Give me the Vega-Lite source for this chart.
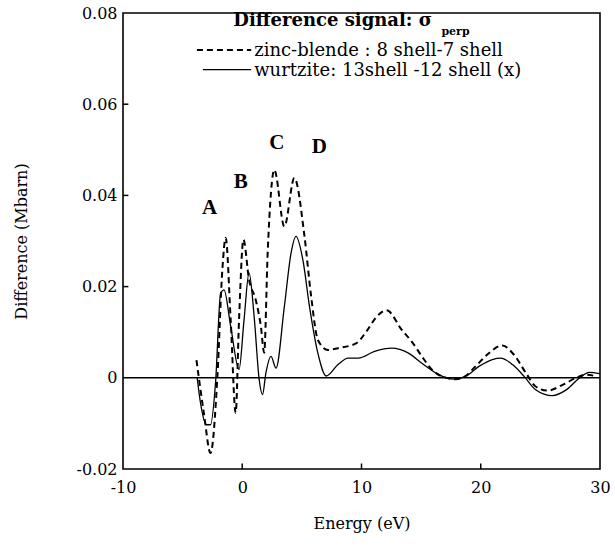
{
  "$schema": "https://vega.github.io/schema/vega-lite/v6.json",
  "width": 477,
  "height": 456,
  "autosize": "none",
  "padding": {"left": 123, "top": 13, "right": 15, "bottom": 80},
  "background": "white",
  "config": {
    "view": {"stroke": null},
    "axis": {"grid": false, "domain": false, "ticks": false, "labelColor": "black", "titleColor": "black", "labelFont": "DejaVu Serif", "titleFont": "DejaVu Serif", "labelFontSize": 16, "titleFontSize": 16, "titleFontWeight": "normal", "labelFlush": false, "labelOverlap": false}
  },
  "datasets": {
    "curves": [
      {"s": "zb", "x": -3.84, "y": 0.0039}, {"s": "zb", "x": -3.22, "y": -0.0077}, {"s": "zb", "x": -2.66, "y": -0.0165}, {"s": "zb", "x": -2.09, "y": 0.0}, {"s": "zb", "x": -1.67, "y": 0.0237}, {"s": "zb", "x": -1.39, "y": 0.0307}, {"s": "zb", "x": -0.97, "y": 0.0127}, {"s": "zb", "x": -0.55, "y": -0.0077}, {"s": "zb", "x": -0.27, "y": 0.0127}, {"s": "zb", "x": 0.1, "y": 0.0303}, {"s": "zb", "x": 0.57, "y": 0.0215}, {"s": "zb", "x": 1.14, "y": 0.017}, {"s": "zb", "x": 1.56, "y": 0.0113}, {"s": "zb", "x": 1.84, "y": 0.0055}, {"s": "zb", "x": 2.13, "y": 0.0273}, {"s": "zb", "x": 2.69, "y": 0.0456}, {"s": "zb", "x": 3.53, "y": 0.0332}, {"s": "zb", "x": 4.37, "y": 0.0438}, {"s": "zb", "x": 5.22, "y": 0.031}, {"s": "zb", "x": 5.78, "y": 0.0178}, {"s": "zb", "x": 6.34, "y": 0.0083}, {"s": "zb", "x": 7.19, "y": 0.0061}, {"s": "zb", "x": 8.03, "y": 0.0065}, {"s": "zb", "x": 9.58, "y": 0.0076}, {"s": "zb", "x": 10.42, "y": 0.0102}, {"s": "zb", "x": 11.27, "y": 0.0134}, {"s": "zb", "x": 12.11, "y": 0.0148}, {"s": "zb", "x": 13.38, "y": 0.0105}, {"s": "zb", "x": 14.2, "y": 0.008}, {"s": "zb", "x": 15.06, "y": 0.0047}, {"s": "zb", "x": 15.9, "y": 0.0018}, {"s": "zb", "x": 16.75, "y": 0.0003}, {"s": "zb", "x": 17.87, "y": -0.0003}, {"s": "zb", "x": 18.72, "y": 0.0004}, {"s": "zb", "x": 19.56, "y": 0.0025}, {"s": "zb", "x": 20.68, "y": 0.0054}, {"s": "zb", "x": 21.81, "y": 0.0071}, {"s": "zb", "x": 22.8, "y": 0.005}, {"s": "zb", "x": 23.8, "y": 0.001}, {"s": "zb", "x": 24.6, "y": -0.0019}, {"s": "zb", "x": 25.6, "y": -0.0028}, {"s": "zb", "x": 26.9, "y": -0.0015}, {"s": "zb", "x": 28.0, "y": 0.0}, {"s": "zb", "x": 28.85, "y": 0.0007}, {"s": "zb", "x": 29.7, "y": 0.0003},
      {"s": "wz", "x": -3.78, "y": 0.0}, {"s": "wz", "x": -3.5, "y": -0.0055}, {"s": "wz", "x": -3.0, "y": -0.0103}, {"s": "wz", "x": -2.66, "y": -0.0103}, {"s": "wz", "x": -2.24, "y": -0.0011}, {"s": "wz", "x": -1.81, "y": 0.0186}, {"s": "wz", "x": -1.53, "y": 0.0193}, {"s": "wz", "x": -0.97, "y": 0.0113}, {"s": "wz", "x": -0.27, "y": 0.0018}, {"s": "wz", "x": 0.15, "y": 0.0127}, {"s": "wz", "x": 0.57, "y": 0.023}, {"s": "wz", "x": 1.0, "y": 0.0134}, {"s": "wz", "x": 1.42, "y": -0.0004}, {"s": "wz", "x": 1.7, "y": -0.0037}, {"s": "wz", "x": 1.98, "y": 0.001}, {"s": "wz", "x": 2.41, "y": 0.0047}, {"s": "wz", "x": 2.83, "y": 0.0021}, {"s": "wz", "x": 3.53, "y": 0.0156}, {"s": "wz", "x": 4.09, "y": 0.0273}, {"s": "wz", "x": 4.51, "y": 0.031}, {"s": "wz", "x": 5.08, "y": 0.0259}, {"s": "wz", "x": 5.64, "y": 0.0156}, {"s": "wz", "x": 6.34, "y": 0.0054}, {"s": "wz", "x": 7.05, "y": 0.0004}, {"s": "wz", "x": 8.03, "y": 0.0029}, {"s": "wz", "x": 8.88, "y": 0.0043}, {"s": "wz", "x": 9.72, "y": 0.0043}, {"s": "wz", "x": 11.1, "y": 0.0058}, {"s": "wz", "x": 12.53, "y": 0.0065}, {"s": "wz", "x": 13.94, "y": 0.0054}, {"s": "wz", "x": 15.06, "y": 0.0032}, {"s": "wz", "x": 16.47, "y": 0.0007}, {"s": "wz", "x": 17.74, "y": -0.0003}, {"s": "wz", "x": 18.72, "y": 0.0003}, {"s": "wz", "x": 19.85, "y": 0.0025}, {"s": "wz", "x": 20.97, "y": 0.004}, {"s": "wz", "x": 21.67, "y": 0.0043}, {"s": "wz", "x": 22.66, "y": 0.0029}, {"s": "wz", "x": 23.64, "y": 0.0003}, {"s": "wz", "x": 24.6, "y": -0.0026}, {"s": "wz", "x": 26.0, "y": -0.0039}, {"s": "wz", "x": 27.2, "y": -0.0026}, {"s": "wz", "x": 28.3, "y": 0.0}, {"s": "wz", "x": 29.1, "y": 0.0012}, {"s": "wz", "x": 29.97, "y": 0.0009}
    ],
    "frame": [{"x": -10, "x2": 30, "y": -0.02, "y2": 0.08}],
    "zero": [{"v": 0}],
    "yticks": [
      {"x": -10, "x2": -9.55, "y": 0.02}, {"x": -10, "x2": -9.55, "y": 0.04}, {"x": -10, "x2": -9.55, "y": 0.06}
    ],
    "xticks": [
      {"x": 0, "y": -0.02, "y2": -0.0188}, {"x": 10, "y": -0.02, "y2": -0.0188}, {"x": 20, "y": -0.02, "y2": -0.0188}
    ],
    "keylines": [
      {"s": "zb", "x": -3.8, "y": 0.0719}, {"s": "zb", "x": 0.75, "y": 0.0719},
      {"s": "wz", "x": -3.3, "y": 0.0676}, {"s": "wz", "x": 0.75, "y": 0.0676}
    ],
    "letters": [
      {"t": "A", "x": -2.74, "y": 0.0373}, {"t": "B", "x": -0.13, "y": 0.043}, {"t": "C", "x": 2.9, "y": 0.0515}, {"t": "D", "x": 6.46, "y": 0.0507}
    ],
    "keytext": [
      {"t": "zinc-blende : 8 shell-7 shell", "x": 1.0, "y": 0.0706},
      {"t": "wurtzite: 13shell -12 shell (x)", "x": 1.0, "y": 0.0662}
    ],
    "heading": [
      {"t": "Difference  signal:  σ", "x": -0.75, "y": 0.0772}
    ],
    "sub": [
      {"t": "perp", "x": 16.7, "y": 0.0752}
    ]
  },
  "layer": [
    {"data": {"name": "frame"}, "mark": {"type": "rect", "filled": false, "stroke": "black", "strokeWidth": 1.6},
      "encoding": {
        "x": {"field": "x", "type": "quantitative", "scale": {"domain": [-10, 30], "nice": false, "zero": false},
          "axis": {"title": "Energy (eV)", "values": [-10, 0, 10, 20, 30], "labelPadding": 10, "titlePadding": 20, "labelExpr": "datum.value < 0 ? '-' + format(-datum.value, 'd') : format(datum.value, 'd')"}},
        "x2": {"field": "x2"},
        "y": {"field": "y", "type": "quantitative", "scale": {"domain": [-0.02, 0.08], "nice": false, "zero": false},
          "axis": {"title": "Difference (Mbarn)", "values": [-0.02, 0, 0.02, 0.04, 0.06, 0.08], "labelPadding": 6, "titlePadding": 46, "labelExpr": "datum.value == 0 ? '0' : (datum.value < 0 ? '-' + format(-datum.value, '.2f') : format(datum.value, '.2f'))"}},
        "y2": {"field": "y2"}
      }},
    {"data": {"name": "zero"}, "mark": {"type": "rule", "color": "black", "strokeWidth": 1.5},
      "encoding": {"y": {"field": "v", "type": "quantitative"}}},
    {"data": {"name": "yticks"}, "mark": {"type": "rule", "color": "black", "strokeWidth": 1.5},
      "encoding": {"x": {"field": "x", "type": "quantitative"}, "x2": {"field": "x2"}, "y": {"field": "y", "type": "quantitative"}}},
    {"data": {"name": "xticks"}, "mark": {"type": "rule", "color": "black", "strokeWidth": 1.5},
      "encoding": {"x": {"field": "x", "type": "quantitative"}, "y": {"field": "y", "type": "quantitative"}, "y2": {"field": "y2"}}},
    {"data": {"name": "curves"}, "transform": [{"filter": "datum.s == 'wz'"}], "mark": {"type": "line", "color": "black", "strokeWidth": 1.3, "interpolate": "monotone"},
      "encoding": {"x": {"field": "x", "type": "quantitative"}, "y": {"field": "y", "type": "quantitative"}}},
    {"data": {"name": "curves"}, "transform": [{"filter": "datum.s == 'zb'"}], "mark": {"type": "line", "color": "black", "strokeWidth": 2, "strokeDash": [6, 4], "interpolate": "monotone"},
      "encoding": {"x": {"field": "x", "type": "quantitative"}, "y": {"field": "y", "type": "quantitative"}}},
    {"data": {"name": "keylines"}, "transform": [{"filter": "datum.s == 'zb'"}], "mark": {"type": "line", "color": "black", "strokeWidth": 2, "strokeDash": [6, 4]},
      "encoding": {"x": {"field": "x", "type": "quantitative"}, "y": {"field": "y", "type": "quantitative"}}},
    {"data": {"name": "keylines"}, "transform": [{"filter": "datum.s == 'wz'"}], "mark": {"type": "line", "color": "black", "strokeWidth": 1.3},
      "encoding": {"x": {"field": "x", "type": "quantitative"}, "y": {"field": "y", "type": "quantitative"}}},
    {"data": {"name": "letters"}, "mark": {"type": "text", "font": "Liberation Serif", "fontSize": 21, "fontWeight": "bold", "align": "center", "baseline": "middle", "color": "black"},
      "encoding": {"x": {"field": "x", "type": "quantitative"}, "y": {"field": "y", "type": "quantitative"}, "text": {"field": "t"}}},
    {"data": {"name": "keytext"}, "mark": {"type": "text", "font": "DejaVu Serif", "fontSize": 18, "align": "left", "baseline": "alphabetic", "color": "black"},
      "encoding": {"x": {"field": "x", "type": "quantitative"}, "y": {"field": "y", "type": "quantitative"}, "text": {"field": "t"}}},
    {"data": {"name": "heading"}, "mark": {"type": "text", "font": "DejaVu Serif", "fontSize": 18, "fontWeight": "bold", "align": "left", "baseline": "alphabetic", "color": "black"},
      "encoding": {"x": {"field": "x", "type": "quantitative"}, "y": {"field": "y", "type": "quantitative"}, "text": {"field": "t"}}},
    {"data": {"name": "sub"}, "mark": {"type": "text", "font": "DejaVu Serif", "fontSize": 11, "fontWeight": "bold", "align": "left", "baseline": "alphabetic", "color": "black"},
      "encoding": {"x": {"field": "x", "type": "quantitative"}, "y": {"field": "y", "type": "quantitative"}, "text": {"field": "t"}}}
  ]
}
